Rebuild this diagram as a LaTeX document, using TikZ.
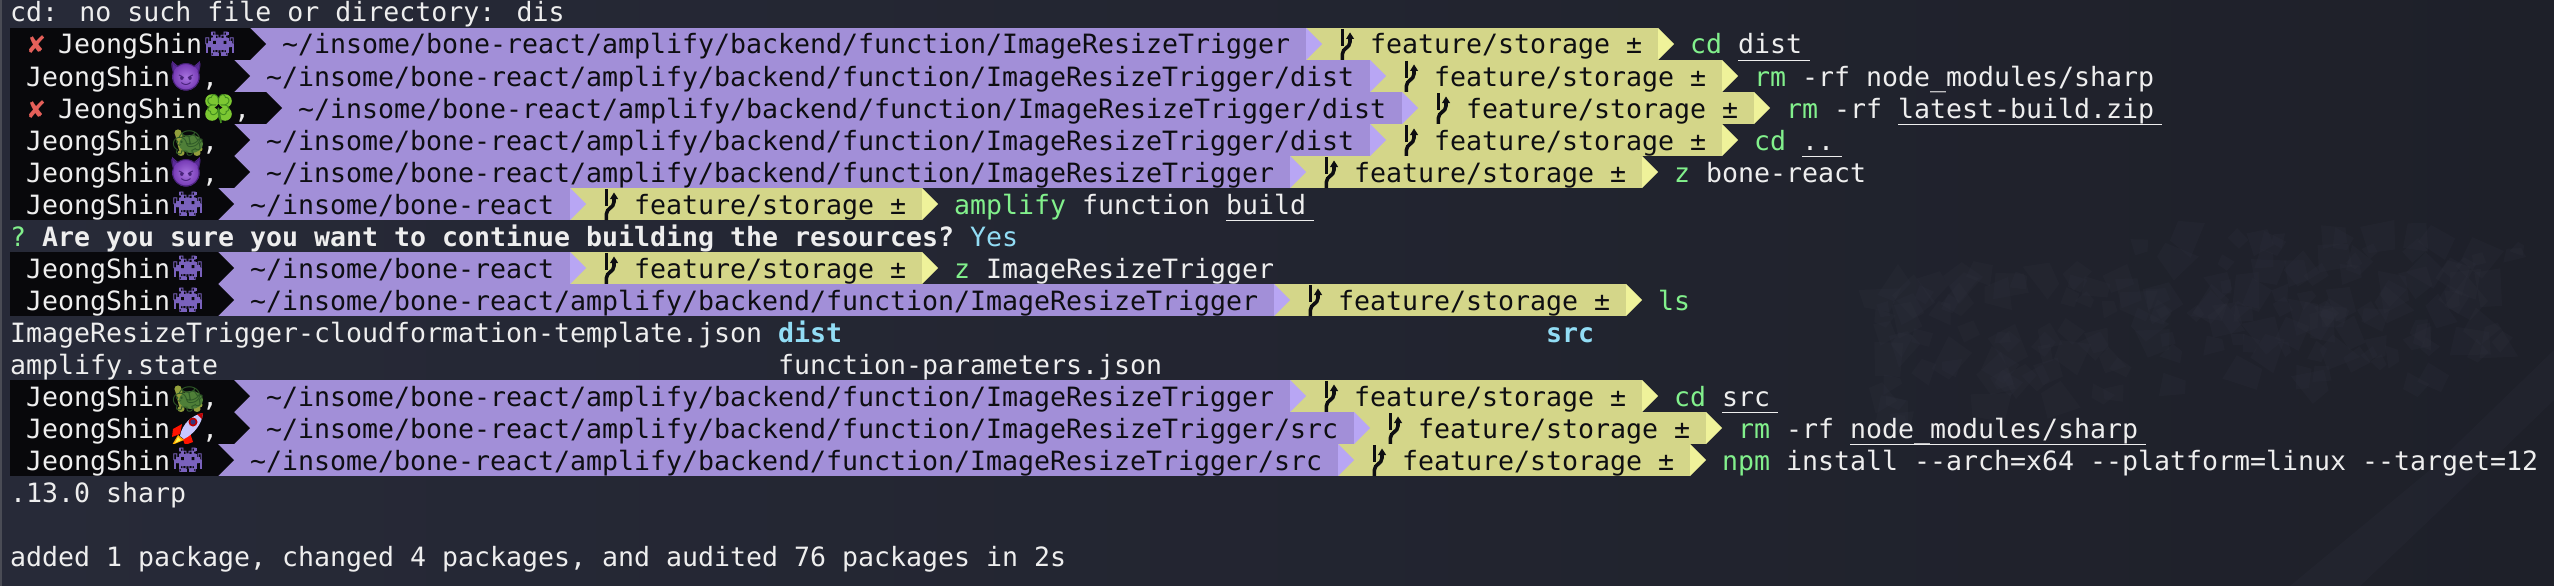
\documentclass[tikz,border=0pt]{standalone}
\usepackage{fontspec}
\newfontfamily\term{DejaVu Sans Mono}
\newfontfamily\symfont{DejaVu Sans}
\newfontfamily\emofont{Noto Emoji}
\definecolor{bgl}{HTML}{272A38}
\definecolor{bgm}{HTML}{23252F}
\definecolor{bgr}{HTML}{1E2029}
\definecolor{rock}{HTML}{30323F}
\definecolor{blk}{HTML}{08080B}
\definecolor{purp}{HTML}{A28FD8}
\definecolor{purpl}{HTML}{B8A6F4}
\definecolor{yel}{HTML}{D4D689}
\definecolor{yell}{HTML}{EFF29A}
\definecolor{fg}{HTML}{EEEEEE}
\definecolor{grn}{HTML}{82F08C}
\definecolor{cya}{HTML}{92DDF5}
\definecolor{errc}{HTML}{E5605A}
\definecolor{ink}{HTML}{0E0E12}
\definecolor{invc}{HTML}{7A62BD}
\definecolor{devc}{HTML}{8A44D4}
\definecolor{devd}{HTML}{5A2A98}
\definecolor{clo}{HTML}{7CC832}
\definecolor{clod}{HTML}{3F8A1E}
\definecolor{tshell}{HTML}{4F7F38}
\definecolor{tshelld}{HTML}{2F5A28}
\definecolor{tbody}{HTML}{93A03C}
\tikzset{
  txt/.style={anchor=base west,inner sep=0pt,outer sep=0pt,font=\fontsize{26.58}{32}\selectfont\term,text=#1},
  txt/.default=fg,
  boldtxt/.style={txt=#1,font=\fontsize{26.58}{32}\selectfont\term\bfseries},
  emoglyph/.style={anchor=center,inner sep=0pt,font=\fontsize{#1}{#1}\selectfont\emofont},
  rockface/.style={fill=rock,opacity=.2},
  under/.style={draw=fg,line width=1.4pt}
}
% cell text: name, row top, column, colour, text
\newcommand{\cellt}[5]{%
  \pgfmathsetmacro\cx{10+16*#3}\pgfmathsetmacro\cy{#2+26}%
  \node[txt=#4] (#1) at (\cx,\cy) {\detokenize{#5}};}
\newcommand{\rowtop}[1]{\pgfmathsetmacro\T{28+32*(#1-1)}}
\newcommand{\ulin}[3]{% row, col, number of columns
  \pgfmathsetmacro\ua{10+16*#2}\pgfmathsetmacro\ub{10+16*(#2+#3)+8}\pgfmathsetmacro\uy{28+32*#1+0.4}%
  \draw[under] (\ua,\uy) -- (\ub,\uy);}
% emoji, drawn in a 32x32 cell
\newcommand{\eInv}{%
  \begin{scope}[shift={(3.5,4)},x=2.6pt,y=-3pt]
    \foreach \a/\b/\w in {2/0/1,8/0/1,3/1/1,7/1/1,2/2/7,1/3/2,4/3/3,8/3/2,0/4/11,0/5/1,2/5/7,10/5/1,0/6/1,2/6/1,8/6/1,10/6/1,3/7/2,6/7/2}
      {\fill[invc] (\a,\b) rectangle ++(\w,1);}
  \end{scope}
  \node[emoglyph=24,text=invc] at (17.5,16) {👾};
  \begin{scope}[shift={(3.5,4)},x=2.6pt,y=-3pt]
    \fill[blk] (3,3) rectangle ++(1,1) (7,3) rectangle ++(1,1);
  \end{scope}}
\newcommand{\eDev}{%
  \fill[devd] (2,1) -- (9,7) -- (23,7) -- (30,1) -- (29,15) -- (3,15) -- cycle;
  \shade[inner color=devc!75!white,outer color=devc!85!black] (16,17) circle (13.5);
  \node[emoglyph=27,text=devd!80!black] at (16,17) {😈};}
\newcommand{\eClo}{%
  \fill[clo] (10,9) circle (6.8) (23,9) circle (6.8) (10,22) circle (6.8) (23,22) circle (6.8);
  \draw[clod,line width=1.6pt] (16.5,16) -- (19,31);
  \node[emoglyph=27,text=clod] at (16.5,16) {🍀};}
\newcommand{\eTur}{%
  \fill[tbody] (8,9) circle (3.6) (5,10) -- (11,8) -- (16,18) -- (14,27) -- (9,26) -- cycle
               (11,29) ellipse (3.5 and 3) (27,29) ellipse (3.5 and 3) (30,25) circle (2.5);
  \fill[tshell] (21,20) ellipse (12 and 9);
  \node[emoglyph=26,text=tshelld] at (18,19) {🐢};}
\newcommand{\eRoc}{%
  \fill[red!85!orange] (12,12) -- (3,17) -- (2,25) -- (10,22) -- cycle (20,21) -- (23,30) -- (15,33) -- (12,25) -- cycle;
  \fill[orange!65!yellow] (8,23) -- (2,33) -- (14,28) -- cycle;
  \fill[yellow!70!white] (8,25) -- (5,31) -- (11,28) -- cycle;
  \fill[blue!22!white] (10,24) .. controls (12,12) and (22,3) .. (33,1) .. controls (32,12) and (24,22) .. (14,27) -- cycle;
  \fill[red!75!black] (27,2) -- (33,1) -- (32,7) -- cycle (23,10) circle (4.5);
  \fill[gray!60!blue!70!black] (23,10) circle (2.6);
  \node[emoglyph=6,text=blue!22!white] at (17,19) {🚀};}
% prompt row: row, err, comma, emoji, path length, path
\newcommand{\prow}[6]{%
  \pgfmathsetmacro\T{28+32*(#1-1)}\pgfmathsetmacro\Bt{\T+32}\pgfmathsetmacro\Mt{\T+16}%
  \pgfmathtruncatemacro\bc{13+2*#2+#3}\pgfmathtruncatemacro\pc{\bc+3+#5}\pgfmathtruncatemacro\yc{\pc+22}%
  \pgfmathsetmacro\bx{10+16*\bc}\pgfmathsetmacro\px{10+16*\pc}\pgfmathsetmacro\yx{10+16*\yc}%
  \pgfmathsetmacro\bxa{\bx+16}\pgfmathsetmacro\pxa{\px+16}\pgfmathsetmacro\yxa{\yx+16}%
  \fill[blk] (10,\T) rectangle (\bx,\Bt);
  \fill[purp] (\bx,\T) rectangle (\px,\Bt);
  \fill[blk] (\bx,\T) -- (\bxa,\Mt) -- (\bx,\Bt) -- cycle;
  \fill[yel] (\px,\T) rectangle (\yx,\Bt);
  \fill[purpl] (\px,\T) -- (\pxa,\Mt) -- (\px,\Bt) -- cycle;
  \fill[yell] (\yx,\T) -- (\yxa,\Mt) -- (\yx,\Bt) -- cycle;
  \pgfmathtruncatemacro\jc{1+2*#2}%
  \ifnum#2=1
    \pgfmathsetmacro\ex{10+16}\pgfmathsetmacro\ey{\T+26}%
    \node[anchor=base west,inner sep=0pt,text=errc,font=\fontsize{24}{32}\selectfont\symfont] (err#1) at (\ex,\ey) {✘};
  \fi
  \cellt{user#1}{\T}{\jc}{fg}{JeongShin}
  \pgfmathsetmacro\emx{10+16*(\jc+9)}%
  \begin{scope}[shift={(\emx,\T)}] #4 \end{scope}
  \ifnum#3=1
    \pgfmathtruncatemacro\cc{\jc+11}\cellt{comma#1}{\T}{\cc}{fg}{,}
  \fi
  \pgfmathtruncatemacro\tc{\bc+2}\cellt{path#1}{\T}{\tc}{ink}{#6}
  \pgfmathsetmacro\gx{10+16*(\pc+2)}%
  \begin{scope}[shift={(\gx,\T)}]
    \draw[ink,line width=3.4pt] (4.4,1) -- (4.4,18);
    \draw[ink,line width=3.6pt] (4.4,32) -- (4.4,26) .. controls (4.4,20) and (12,20) .. (12,14) -- (12,8);
    \fill[ink] (12,4.5) -- (8,11) -- (16.2,11) -- cycle;
  \end{scope}
  \pgfmathtruncatemacro\fc{\pc+4}\cellt{feat#1}{\T}{\fc}{ink}{feature/storage}
  \pgfmathtruncatemacro\mc{\pc+20}\cellt{pm#1}{\T}{\mc}{ink}{±}
}
\begin{document}
\begin{tikzpicture}[x=1pt,y=-1pt]
\useasboundingbox (0,0) rectangle (2554,586);
\shade[left color=bgl,middle color=bgm,right color=bgr] (0,0) rectangle (2554,586);
\fill[bgl!60!gray] (0,0) rectangle (2,586);
% faint rocks of the wallpaper
\pgfmathsetseed{11}
\foreach \i in {1,...,170}{
  \pgfmathsetmacro\rx{1880+rnd*640}
  \pgfmathsetmacro\ry{235+rnd*150+max(0,(2200-\rx)*0.15)}
  \pgfmathsetmacro\ra{8+rnd*15}
  \pgfmathsetmacro\aa{rnd*360}
  \pgfmathsetmacro\ab{\aa+70+rnd*60}
  \pgfmathsetmacro\ac{\ab+60+rnd*60}
  \pgfmathsetmacro\ad{\ac+50+rnd*40}
  \fill[rockface] ([shift={(\aa:\ra)}]\rx,\ry) -- ([shift={(\ab:\ra)}]\rx,\ry) -- ([shift={(\ac:\ra)}]\rx,\ry) -- ([shift={(\ad:\ra)}]\rx,\ry) -- cycle;
}
\fill[rock,opacity=.22] (2290,586) -- (2430,470) -- (2554,350) -- (2554,400) -- (2440,510) -- (2360,586) -- cycle;
\cellt{err0}{-4}{0}{fg}{cd: no such file or directory: dis}

\prow{1}{1}{0}{\eInv}{63}{~/insome/bone-react/amplify/backend/function/ImageResizeTrigger}
\rowtop{1}\cellt{c1a}{\T}{105}{grn}{cd}\cellt{c1b}{\T}{108}{fg}{dist}\ulin{1}{108}{4}

\prow{2}{0}{1}{\eDev}{68}{~/insome/bone-react/amplify/backend/function/ImageResizeTrigger/dist}
\rowtop{2}\cellt{c2a}{\T}{109}{grn}{rm}\cellt{c2b}{\T}{112}{fg}{-rf node_modules/sharp}

\prow{3}{1}{1}{\eClo}{68}{~/insome/bone-react/amplify/backend/function/ImageResizeTrigger/dist}
\rowtop{3}\cellt{c3a}{\T}{111}{grn}{rm}\cellt{c3b}{\T}{114}{fg}{-rf latest-build.zip}\ulin{3}{118}{16}

\prow{4}{0}{1}{\eTur}{68}{~/insome/bone-react/amplify/backend/function/ImageResizeTrigger/dist}
\rowtop{4}\cellt{c4a}{\T}{109}{grn}{cd}\cellt{c4b}{\T}{112}{fg}{..}\ulin{4}{112}{2}

\prow{5}{0}{1}{\eDev}{63}{~/insome/bone-react/amplify/backend/function/ImageResizeTrigger}
\rowtop{5}\cellt{c5a}{\T}{104}{grn}{z}\cellt{c5b}{\T}{106}{fg}{bone-react}

\prow{6}{0}{0}{\eInv}{19}{~/insome/bone-react}
\rowtop{6}\cellt{c6a}{\T}{59}{grn}{amplify}\cellt{c6b}{\T}{67}{fg}{function build}\ulin{6}{76}{5}

\rowtop{7}\cellt{q7}{\T}{0}{grn}{?}
\node[boldtxt=fg] (q7b) at (42,\T+26) {Are you sure you want to continue building the resources?};
\cellt{q7c}{\T}{60}{cya}{Yes}

\prow{8}{0}{0}{\eInv}{19}{~/insome/bone-react}
\rowtop{8}\cellt{c8a}{\T}{59}{grn}{z}\cellt{c8b}{\T}{61}{fg}{ImageResizeTrigger}

\prow{9}{0}{0}{\eInv}{63}{~/insome/bone-react/amplify/backend/function/ImageResizeTrigger}
\rowtop{9}\cellt{c9a}{\T}{103}{grn}{ls}

\rowtop{10}\cellt{l10a}{\T}{0}{fg}{ImageResizeTrigger-cloudformation-template.json}
\node[boldtxt=cya] (l10b) at (778,\T+26) {dist};
\node[boldtxt=cya] (l10c) at (1546,\T+26) {src};
\rowtop{11}\cellt{l11a}{\T}{0}{fg}{amplify.state}\cellt{l11b}{\T}{48}{fg}{function-parameters.json}

\prow{12}{0}{1}{\eTur}{63}{~/insome/bone-react/amplify/backend/function/ImageResizeTrigger}
\rowtop{12}\cellt{c12a}{\T}{104}{grn}{cd}\cellt{c12b}{\T}{107}{fg}{src}\ulin{12}{107}{3}

\prow{13}{0}{1}{\eRoc}{67}{~/insome/bone-react/amplify/backend/function/ImageResizeTrigger/src}
\rowtop{13}\cellt{c13a}{\T}{108}{grn}{rm}\cellt{c13b}{\T}{111}{fg}{-rf node_modules/sharp}\ulin{13}{115}{18}

\prow{14}{0}{0}{\eInv}{67}{~/insome/bone-react/amplify/backend/function/ImageResizeTrigger/src}
\rowtop{14}\cellt{c14a}{\T}{107}{grn}{npm}\cellt{c14b}{\T}{111}{fg}{install --arch=x64 --platform=linux --target=12}

\rowtop{15}\cellt{l15}{\T}{0}{fg}{.13.0 sharp}
\rowtop{17}\cellt{l17}{\T}{0}{fg}{added 1 package, changed 4 packages, and audited 76 packages in 2s}
\end{tikzpicture}
\end{document}
